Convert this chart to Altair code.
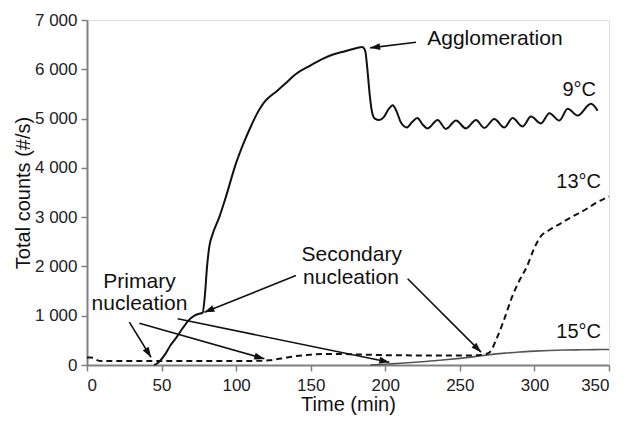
import math
import altair as alt
import pandas as pd

# ---- data ----
x9 = [45, 47, 52, 56, 60, 64, 68, 72, 75, 77.5, 79, 80.5, 82, 84.3, 88.7, 93, 100, 105,
      110, 114, 118, 122, 127, 133, 139, 150, 158, 165, 171, 177, 184.5, 186.5, 188,
      189.5, 191, 193, 196, 199, 202, 205, 207.5, 210.5, 214.5, 218, 221.5, 225, 228.4,
      235.1, 240.7, 247.4, 254.1, 260.8, 266.4, 273.1, 279.8, 285.4, 292.1, 297.7,
      304.4, 310.0, 316.7, 322.3, 329.0, 337.9, 342.4]
y9 = [0, 30, 200, 400, 560, 740, 900, 1000, 1040, 1060, 1400, 2000, 2400, 2660, 3000, 3400,
      4100, 4500, 4850, 5100, 5300, 5430, 5550, 5710, 5880, 6080, 6210, 6300, 6350, 6400,
      6450, 6380, 6000, 5500, 5150, 5000, 4970, 5030, 5180, 5270, 5150, 4920, 4820, 4930,
      5010, 4880, 4800,
      4970, 4790, 4960, 4800, 4970, 4810, 4990, 4820, 5010, 4840, 5040,
      4900, 5110, 4960, 5200, 5060, 5300, 5160]

x13 = [0, 3, 6, 9, 20, 40, 60, 80, 100, 115, 122, 130, 140, 150, 160, 170, 180, 200, 220,
       240, 260, 266, 270, 275, 280, 285, 290, 295, 300, 304, 310, 318, 326, 334, 342, 350]
y13 = [150, 150, 110, 80, 80, 80, 80, 80, 80, 85, 95, 130, 180, 210, 225, 225, 215, 200,
       195, 195, 195, 215, 260, 560, 950, 1380, 1720, 2000, 2380, 2600, 2740, 2880, 3020,
       3150, 3300, 3420]

x15 = [190, 200, 210, 220, 230, 240, 250, 260, 270, 280, 290, 300, 310, 320, 330, 340, 350]
y15 = [0, 15, 35, 55, 80, 105, 135, 170, 210, 240, 265, 282, 295, 303, 308, 312, 315]

label_text = ["Agglomeration", "Primary", "nucleation", "Secondary", "nucleation"]
label_x = [273.5, 35.2, 35.2, 177.5, 177.0]
label_y = [6502, 1572, 1106, 2120, 1653]

series_text = ["9°C", "13°C", "15°C"]
series_x = [341.3, 344.6, 344.6]
series_y = [5467, 3601, 538]

arrow_x_tail = [220.6, 28.4, 35.1, 60.8, 140.1, 215.0]
arrow_y_tail = [6549, 869, 848, 937, 1816, 1749]
arrow_x_head = [189.8, 42.9, 118.9, 202.7, 78.7, 264.2]
arrow_y_head = [6435, 158, 126, 57, 1071, 260]

x_ticks = [0, 50, 100, 150, 200, 250, 300, 350]
y_ticks = [0, 1000, 2000, 3000, 4000, 5000, 6000, 7000]

# ---- build chart ----
W, H = 522, 345
FONT = "Liberation Sans"

xs = alt.Scale(domain=[0, 350], nice=False, zero=False)
ys = alt.Scale(domain=[0, 7000], nice=False)

d9 = pd.DataFrame({"t": x9, "c": y9})
d13 = pd.DataFrame({"t": x13, "c": y13})
d15 = pd.DataFrame({"t": x15, "c": y15})

xenc = alt.X("t:Q", scale=xs, title="Time (min)",
             axis=alt.Axis(values=x_ticks, grid=False, domainColor="#808080", domainWidth=2,
                           tickColor="#808080", tickWidth=1.5, tickSize=6, labelPadding=6,
                           labelFontSize=17, titleFontSize=20, labelColor="#222",
                           titleColor="#111", titlePadding=1, labelFont=FONT, titleFont=FONT,
                           titleFontWeight="normal"))
yenc = alt.Y("c:Q", scale=ys, title="Total counts (#/s)",
             axis=alt.Axis(values=y_ticks, grid=False, domainColor="#808080", domainWidth=2,
                           tickColor="#808080", tickWidth=1.5, tickSize=6, labelPadding=4,
                           labelFontSize=17, titleFontSize=20, labelColor="#222",
                           titleColor="#111", titlePadding=1, labelFont=FONT, titleFont=FONT,
                           titleFontWeight="normal",
                           labelExpr="replace(format(datum.value, ',d'), ',', ' ')"))

l15 = alt.Chart(d15).mark_line(color="#555555", strokeWidth=1.6, interpolate="monotone").encode(
    x=xenc, y=yenc)
l13 = alt.Chart(d13).mark_line(color="#111111", strokeWidth=2, strokeDash=[6, 4],
                               interpolate="monotone").encode(x="t:Q", y="c:Q")
l9 = alt.Chart(d9).mark_line(color="#111111", strokeWidth=2, interpolate="monotone").encode(
    x="t:Q", y="c:Q")

sx, sy = W / 350.0, H / 7000.0
angles = []
for xt, yt, xh, yh in zip(arrow_x_tail, arrow_y_tail, arrow_x_head, arrow_y_head):
    dx = (xh - xt) * sx
    dy = -(yh - yt) * sy
    angles.append(math.degrees(math.atan2(dx, -dy)) % 360)

darr = pd.DataFrame({"xt": arrow_x_tail, "yt": arrow_y_tail, "xh": arrow_x_head,
                     "yh": arrow_y_head, "ang": angles})
rules = alt.Chart(darr).mark_rule(color="#111111", strokeWidth=1.6).encode(
    x="xt:Q", y="yt:Q", x2="xh:Q", y2="yh:Q")
heads = alt.Chart(darr).mark_point(
    shape="M0,0L0.7,2L-0.7,2Z", filled=True, color="#111111", opacity=1, size=100,
    strokeWidth=0).encode(
    x="xh:Q", y="yh:Q", angle=alt.Angle("ang:Q", scale=None))

dlab = pd.DataFrame({"txt": label_text, "x": label_x, "y": label_y})
labels = alt.Chart(dlab).mark_text(font=FONT, fontSize=21, color="#111111", align="center",
                                   baseline="alphabetic").encode(
    x="x:Q", y="y:Q", text="txt:N")

dser = pd.DataFrame({"txt": series_text, "x": series_x, "y": series_y})
slabels = alt.Chart(dser).mark_text(font=FONT, fontSize=20, color="#111111", align="right",
                                    baseline="alphabetic").encode(
    x="x:Q", y="y:Q", text="txt:N")

chart = alt.layer(l15, l13, l9, rules, heads, labels, slabels).properties(
    width=W, height=H,
    padding={"left": 5, "top": 3, "right": 5, "bottom": 5}
).configure_view(stroke="#808080", strokeWidth=1.5).configure(background="white")

chart.save("out.html", embed_options={"renderer": "svg", "actions": False})
